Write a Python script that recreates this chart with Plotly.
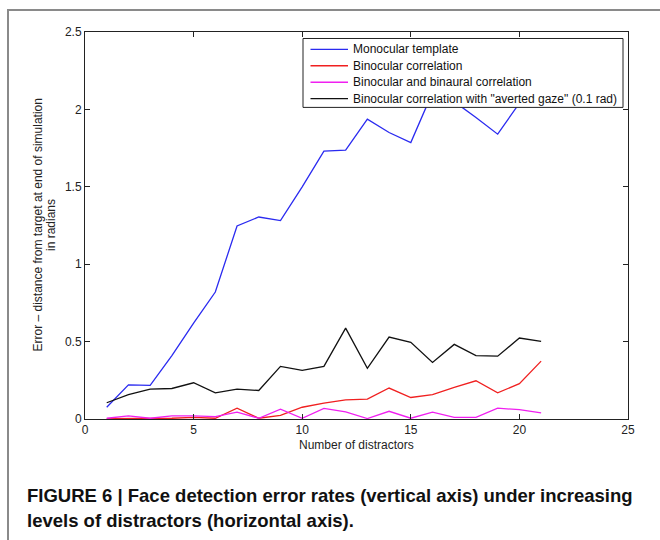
import plotly.graph_objects as go

# ---- data ----
distractors = list(range(1, 22))
monocular = [0.076, 0.221, 0.217, 0.41, 0.62, 0.82, 1.247, 1.305, 1.282, 1.50, 1.73,
             1.737, 1.937, 1.851, 1.786, 2.11, 2.05, 1.948, 1.84, 2.04, 2.15]
binocular = [0.003, 0.003, 0.003, 0.005, 0.01, 0.005, 0.07, 0.005, 0.023, 0.076, 0.102,
             0.124, 0.128, 0.20, 0.139, 0.158, 0.204, 0.247, 0.169, 0.228, 0.374]
binaural = [0.005, 0.02, 0.005, 0.02, 0.02, 0.015, 0.044, 0.005, 0.063, 0.005, 0.068,
            0.046, 0.003, 0.05, 0.005, 0.044, 0.01, 0.01, 0.07, 0.06, 0.04]
averted = [0.105, 0.158, 0.193, 0.197, 0.234, 0.169, 0.193, 0.184, 0.34, 0.314, 0.34,
           0.587, 0.327, 0.529, 0.495, 0.365, 0.482, 0.409, 0.406, 0.523, 0.501]

series_names = ["Monocular template", "Binocular correlation",
                "Binocular and binaural correlation",
                'Binocular correlation with "averted gaze" (0.1 rad)']
series_values = [monocular, binocular, binaural, averted]
series_colors = ["#2a2af0", "#f02020", "#f020f0", "#111111"]

x_ticks = [0, 5, 10, 15, 20, 25]
y_ticks = [0, 0.5, 1, 1.5, 2, 2.5]
y_tick_labels = ["0", "0.5", "1", "1.5", "2", "2.5"]

x_title = "Number of distractors"
y_title_lines = ["Error \u2013 distance from target at end of simulation", "in radians"]
caption1 = "FIGURE 6 | Face detection error rates (vertical axis) under increasing"
caption2 = "levels of distractors (horizontal axis)."

W, H = 660, 540
L, R, T, B = 85, 32, 32, 120.5
pw, ph = W - L - R, H - T - B


def px(xp):
    return (xp - L) / pw


def py(yp):
    return (H - B - yp) / ph


fig = go.Figure()
for name, vals, col in zip(series_names, series_values, series_colors):
    fig.add_trace(go.Scatter(x=distractors, y=vals, mode="lines", name=name,
                             line=dict(color=col, width=1.3), showlegend=False))

base_font = "Liberation Sans, Arial, Helvetica, sans-serif"
axis_common = dict(showline=True, linecolor="#222", linewidth=1, mirror="ticks",
                   ticks="inside", ticklen=5, tickcolor="#222", showgrid=False,
                   zeroline=False, tickfont=dict(size=12, color="#222", family=base_font))

fig.update_layout(
    width=W, height=H,
    margin=dict(l=L, r=R, t=T, b=B),
    paper_bgcolor="white", plot_bgcolor="white",
    font=dict(family=base_font, color="#222", size=12),
    xaxis=dict(range=[0, 25], tickvals=x_ticks, **axis_common),
    yaxis=dict(range=[0, 2.5], tickvals=y_ticks, ticktext=y_tick_labels, **axis_common),
    showlegend=False,
)

# ---- legend box (drawn on top of the plot area) ----
leg_left, leg_right, leg_top, leg_bottom = 303, 623, 38.5, 107.5
row_y = [49.3, 65.8, 82.3, 98.8]
fig.add_shape(type="rect", xref="paper", yref="paper",
              x0=px(leg_left), x1=px(leg_right), y0=py(leg_bottom), y1=py(leg_top),
              line=dict(color="#222", width=1), fillcolor="white", layer="above")
for name, col, ry in zip(series_names, series_colors, row_y):
    fig.add_shape(type="line", xref="paper", yref="paper",
                  x0=px(310.5), x1=px(348), y0=py(ry), y1=py(ry),
                  line=dict(color=col, width=1.3), layer="above")
    fig.add_annotation(text=name, xref="paper", yref="paper", x=px(351), y=py(ry),
                       showarrow=False, xanchor="left", yanchor="middle",
                       font=dict(size=12, color="#111"))

fig.add_annotation(text=x_title, xref="paper", yref="paper", x=0.5, y=py(446),
                   showarrow=False, xanchor="center", yanchor="middle",
                   font=dict(size=12, color="#222"))
for line_text, cx in zip(y_title_lines, [37, 50.5]):
    fig.add_annotation(text=line_text, xref="paper", yref="paper", x=px(cx), y=0.5,
                       showarrow=False, xanchor="center", yanchor="middle", textangle=-90,
                       font=dict(size=12, color="#222"))

cap_font = dict(family="Liberation Sans, Arial, sans-serif", size=18.5, color="#111")
fig.add_annotation(text="<b>" + caption1 + "</b>", xref="paper", yref="paper",
                   x=px(25), y=py(496), showarrow=False, xanchor="left", yanchor="middle",
                   font=cap_font)
fig.add_annotation(text="<b>" + caption2 + "</b>", xref="paper", yref="paper",
                   x=px(25), y=py(521), showarrow=False, xanchor="left", yanchor="middle",
                   font=cap_font)

# outer panel frame (left and top edges visible)
fig.add_shape(type="rect", xref="paper", yref="paper",
              x0=px(8), x1=px(700), y0=py(600), y1=py(10),
              line=dict(color="#8a8a8a", width=2), fillcolor="rgba(0,0,0,0)", layer="below")

fig.write_html("out.html")
